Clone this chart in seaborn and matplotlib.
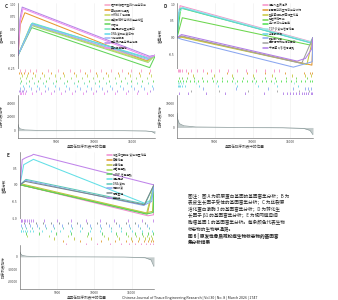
import matplotlib
matplotlib.use('Agg')
import matplotlib.pyplot as plt
import pandas as pd
import seaborn as sns

sns.set_theme(style='white')
plt.rcParams['font.family'] = ['Noto Sans CJK SC', 'DejaVu Sans']
plt.rcParams['axes.unicode_minus'] = False

W, H = 338, 300

# ---------------- datos ----------------
# (rangos en el eje x: posición en la lista ordenada; hits en miles)

# Panel C
pathways_c = ['胆汁酸和胆汁盐的代谢与合成', '氧化磷酸化通路', "mRNA 3'端加工", '三羧酸循环与呼吸电子传递',
              '核糖体', '细胞周期检查点蛋白', 'DNA 复制前复合物', '线粒体翻译', '蛋白质折叠与分子伴侣', '真核翻译起始']
colors_c = ['#f7a1c4', '#e8982e', '#c9d65b', '#9fdc6e', '#62d45a',
            '#6fe0b5', '#5fd8ea', '#98b4f5', '#b487e6', '#ee90ee']
es_rank_c = [[0, 1800, 16900, 18000], [0, 300, 900, 16900, 18000], [0, 1700, 17000, 18000],
             [0, 1800, 17100, 18000], [0, 1800, 17300, 18000], [0, 1900, 17000, 18000],
             [0, 1800, 16900, 18000], [0, 1900, 17000, 18000], [0, 250, 550, 17300, 18000],
             [0, 300, 650, 17200, 18000]]
es_val_c = [[0, 0.61, -0.10, 0], [0, 0.60, 0.83, -0.11, 0], [0, 0.60, -0.12, 0],
            [0, 0.58, -0.14, 0], [0, 0.54, -0.24, -0.02], [0, 0.63, -0.06, 0],
            [0, 0.62, -0.04, 0], [0, 0.60, -0.08, 0], [0, 0.70, 0.94, -0.02, 0],
            [0, 0.65, 0.91, -0.04, 0]]
hits_c = [[0.3, 0.9, 1.6, 2.4, 3.9, 5.2, 6.8, 8.1, 9.5, 10.9, 12.2, 13.6, 14.8, 16.1, 17.4],
          [0.1, 0.4, 0.8, 1.3, 2.0, 3.1, 4.4, 5.9, 7.3, 8.8, 10.2, 11.6, 13.1, 14.5, 15.9, 17.2],
          [0.5, 1.2, 2.2, 3.4, 4.8, 6.1, 7.6, 9.0, 10.4, 11.8, 13.3, 14.7, 16.0, 17.5],
          [0.2, 1.0, 1.9, 2.9, 4.1, 5.5, 6.9, 8.4, 9.8, 11.2, 12.7, 14.1, 15.5, 16.9],
          [0.4, 1.4, 2.6, 3.7, 5.0, 6.4, 7.9, 9.3, 10.7, 12.0, 13.5, 14.9, 16.3, 17.7],
          [0.3, 1.1, 2.1, 3.3, 4.6, 6.0, 7.4, 8.7, 10.1, 11.5, 12.9, 14.3, 15.7, 17.1],
          [0.6, 1.5, 2.5, 3.6, 4.9, 6.3, 7.7, 9.1, 10.6, 12.1, 13.4, 14.8, 16.2, 17.6],
          [0.2, 0.8, 1.7, 2.8, 4.0, 5.4, 6.7, 8.2, 9.6, 11.0, 12.4, 13.8, 15.2, 16.6, 17.8],
          [0.1, 0.3, 0.5, 0.7, 1.0, 2.3, 3.5, 4.7, 6.2, 7.5, 8.9, 10.3, 11.7, 13.0, 14.4, 15.8, 17.3],
          [0.2, 0.4, 0.6, 0.9, 1.8, 3.0, 4.3, 5.7, 7.1, 8.5, 9.9, 11.3, 12.8, 14.2, 15.6, 17.0]]

# Panel D
pathways_d = ['细胞外基质组织', '胶原蛋白的生物合成与修饰', '整合素细胞表面相互作用', '弹性纤维形成',
              '血小板活化与聚集', 'TGF-β 受体信号转导', '平滑肌收缩', '脂肪酸代谢',
              '固醇调节元件结合蛋白', '干扰素 α/β 信号通路']
colors_d = ['#f58fc8', '#e0962e', '#c8c83c', '#6cd64e', '#4ee04e',
            '#9eeae6', '#63d3e3', '#8aa6f0', '#a0a0a0', '#b07ce8']
es_rank_d = [[0, 400, 17700, 18000], [0, 600, 17850, 18000], [0, 600, 17200, 18000],
             [0, 700, 17600, 18000], [0, 500, 17700, 18000], [0, 200, 500, 800, 17700, 18000],
             [0, 300, 700, 17700, 18000], [0, 600, 15400, 17900, 18000], [0, 600, 16500, 18000],
             [0, 600, 15900, 17000, 17800, 18000]]
es_val_d = [[0, 0.95, -0.12, 0], [0, 0.03, -0.82, 0], [0, 0.01, -0.80, 0],
            [0, 0.59, -0.22, 0], [0, 0.88, -0.15, 0], [0, 0.75, 0.80, 0.90, -0.13, 0],
            [0, 0.85, 0.88, -0.16, 0], [0, -0.05, -0.88, -0.72, 0], [0, 0.05, -0.77, 0],
            [0, 0.09, -0.70, -0.62, -0.35, 0]]
hits_d = [[0.1, 0.2, 0.4, 0.7, 1.2, 1.9, 2.6, 3.4, 4.5, 5.6, 6.8, 7.9, 9.1, 10.4, 11.6, 12.8, 13.5],
          [1.5, 4.0, 6.6, 9.2, 11.7, 14.3, 16.8, 17.6, 17.9],
          [2.1, 4.9, 7.3, 10.1, 12.6, 15.2, 17.0, 17.7],
          [0.3, 0.6, 1.3, 2.2, 3.3, 4.6, 6.0, 7.4, 8.8, 10.2, 11.6, 13.0, 14.4, 15.8, 17.2],
          [0.1, 0.4, 0.8, 1.2, 1.7, 2.2, 2.8, 3.4, 4.0, 4.7, 5.3, 6.0, 6.6, 7.3, 7.9, 8.6,
           9.2, 9.9, 10.5, 11.2, 11.8, 12.5, 13.1, 13.8, 14.4, 15.1, 15.7, 16.4, 17.0, 17.6, 17.9],
          [0.1, 0.3, 0.5, 0.8, 2.5, 5.1, 7.7, 10.3, 12.9, 15.5],
          [0.1, 0.2, 0.4, 0.6, 1.1, 2.9, 5.4, 8.0, 10.7, 13.3, 16.0],
          [3.5, 7.8, 12.1, 15.3, 16.9, 17.4, 17.8, 17.95],
          [1.8, 5.5, 9.4, 13.2, 16.2, 17.5],
          [0.3, 1.5, 3.8, 6.4, 9.0, 11.5, 14.0, 14.5, 15.0, 15.4, 15.8, 16.1, 16.5, 16.8, 17.1, 17.4, 17.7, 17.9]]

# Panel E
pathways_e = ['神经活性配体-受体相互作用', '嗅觉转导', '味觉转导', '钙信号通路',
              'cAMP 信号通路', '细胞周期', 'DNA 复制', '错配修复', '同源重组', '剪接体']
colors_e = ['#f08ccf', '#e29a2f', '#bfc43a', '#a6d85a', '#55d05a',
            '#62dfe6', '#5dc8b8', '#86a8f2', '#7a8a8a', '#c084ea']
es_rank_e = [[0, 17200, 17950, 18000], [0, 17100, 18000], [0, 300, 16900, 17800, 18000],
             [0, 17000, 18000], [0, 17000, 17900, 18000], [0, 500, 1800, 16800, 17600, 18000],
             [0, 800, 16800, 18000], [0, 800, 16600, 17700, 18000], [0, 700, 16700, 18000],
             [0, 300, 700, 1000, 1600, 1800, 17900, 18000]]
es_val_e = [[0, -0.93, -0.90, 0], [0, -0.87, 0], [0, 0.02, -0.84, -0.80, 0],
            [0, -0.86, 0], [0, -0.88, -0.83, 0], [0, 0.60, 0.76, -0.56, -0.45, 0],
            [0, 0.16, -0.58, 0], [0, 0.13, -0.62, -0.50, 0], [0, 0.10, -0.60, 0],
            [0, 0.75, 0.80, 0.83, 0.88, 0.91, 0.0, 0]]
hits_e = [[6.2, 8.9, 10.4, 12.1, 13.5, 14.6, 15.4, 16.2, 16.9, 17.4, 17.8],
          [5.8, 8.1, 10.9, 12.7, 14.2, 15.1, 15.9, 16.6, 17.2, 17.6, 17.9],
          [4.5, 7.2, 9.6, 11.8, 13.3, 14.9, 16.0, 16.8, 17.3, 17.7],
          [1.0, 3.9, 6.5, 9.0, 11.3, 13.0, 14.5, 15.6, 16.5, 17.1, 17.6],
          [0.8, 2.6, 4.8, 6.9, 9.1, 11.0, 12.9, 14.3, 15.5, 16.4, 17.2, 17.8],
          [0.1, 0.2, 0.4, 0.7, 1.0, 1.4, 1.8, 2.9, 4.1, 5.4, 6.7, 8.0, 9.4, 10.8, 12.2, 13.6, 15.0, 16.4, 17.7],
          [0.3, 0.8, 1.6, 2.5, 3.5, 4.6, 5.8, 7.0, 8.3, 9.6, 10.9, 12.2, 13.5, 14.8, 16.1, 17.3],
          [0.2, 0.7, 1.4, 2.3, 3.3, 4.4, 5.6, 6.8, 8.1, 9.4, 10.7, 12.0, 13.3, 14.6, 15.9, 17.1],
          [0.5, 1.2, 2.1, 3.1, 4.2, 5.3, 6.5, 7.7, 9.0, 10.3, 11.6, 12.9, 14.2, 15.5, 16.8],
          [0.1, 0.2, 0.3, 0.5, 0.7, 0.9, 1.2, 1.5, 1.8, 3.2, 5.0, 6.9, 8.8, 10.7, 12.6, 14.5, 16.4, 17.9]]

# métrica de la lista ordenada
metric_rank = [0, 80, 300, 900, 2500, 8000, 14000, 16800, 17600, 18000]
metric_c = [9000, 5000, 2500, 1000, 300, 0, -100, -500, -1500, -4000]
metric_d = [6000, 3500, 1600, 700, 200, 0, -100, -400, -1200, -3000]
metric_e = [4000, 2500, 1200, 500, 150, 0, -150, -700, -2500, -8000]

x_ticks = [5000, 10000, 15000]

caption_lines = ['图注：图 A 为胶原蛋白基因的基因富集分析；B 为',
                 '表皮生长因子受体的基因富集分析；C 为丝裂原',
                 '活化蛋白激酶 3 的基因富集分析；D 为转化生',
                 '长因子 β1 的基因富集分析；E 为视网膜母细',
                 '胞瘤基因 1 的基因富集分析。每条颜色代表生物',
                 '标志物的生物学通路。']
title_lines = ['图 6 | 原发性骨质疏松症生物标志物的基因富',
               '集分析结果']
footer = 'Chinese Journal of Tissue Engineering Research | Vol 30 | No. 8 | March 2026 | 1747'

# ---------------- figura ----------------
fig = plt.figure(figsize=(W / 100, H / 100), dpi=100)
fig.patch.set_facecolor('white')


def box(x0, y0, x1, y1):
    # ejes colocados en coordenadas de pixel (origen arriba a la izquierda)
    return fig.add_axes([x0 / W, 1 - y1 / H, (x1 - x0) / W, (y1 - y0) / H])


def style_axis(ax, left=True, bottom=False):
    for s in ax.spines.values():
        s.set_visible(False)
    ax.spines['left'].set_visible(left)
    ax.spines['bottom'].set_visible(bottom)
    for s in ['left', 'bottom']:
        ax.spines[s].set_color('#555555')
        ax.spines[s].set_linewidth(0.4)
    ax.tick_params(axis='both', labelsize=2.4, length=1, width=0.3, pad=0.6,
                   colors='#555555', labelcolor='#444444')
    ax.set_xlim(0, 18000)
    for t in x_ticks:
        ax.axvline(t, color='#ececec', lw=0.4, zorder=0)
        ax.axvline(t - 2500, color='#f4f4f4', lw=0.3, zorder=0)
    ax.set_facecolor('white')


def draw_panel(letter, x0, x1, ytop, ybot, pathways, colors, ranks, vals, hits,
               metric, es_lim, es_ticks, es_fmt, m_lim, m_ticks, leg_xy, rug_reverse=False):
    y_es = ytop + (ybot - ytop) * 0.49
    y_rug = ytop + (ybot - ytop) * 0.68
    fig.text((x0 - 13) / W, 1 - (ytop + 1) / H, letter, fontsize=3.4, fontweight='bold',
             ha='left', va='top', color='#333333')

    # curvas de enriquecimiento
    ax = box(x0, ytop, x1, y_es)
    rows = []
    for name, rk, vl in zip(pathways, ranks, vals):
        for r, v in zip(rk, vl):
            rows.append({'rank': r, 'es': v, 'pathway': name})
    df = pd.DataFrame(rows)
    sns.lineplot(data=df, x='rank', y='es', hue='pathway', hue_order=pathways,
                 palette=colors, estimator=None, sort=False, lw=0.75, ax=ax)
    style_axis(ax)
    ax.set_ylim(*es_lim)
    ax.set_yticks(es_ticks)
    ax.set_yticklabels([es_fmt.format(t) for t in es_ticks])
    ax.set_xticks(x_ticks)
    ax.set_xticklabels([])
    ax.tick_params(axis='x', length=0)
    ax.set_xlabel('')
    ax.set_ylabel('富集分数', fontsize=2.6, labelpad=1.5, color='#444444')
    leg = ax.legend(loc='upper left', bbox_to_anchor=(leg_xy[0] / W, 1 - leg_xy[1] / H),
                    bbox_transform=fig.transFigure, fontsize=2.0, frameon=False,
                    handlelength=1.6, handletextpad=0.5, labelspacing=0.25, borderpad=0)
    for hl in leg.get_lines():
        hl.set_linewidth(1.1)

    # marcas de genes
    axr = box(x0, y_es, x1, y_rug)
    n = len(hits)
    for i, h in enumerate(hits):
        row = i if rug_reverse else n - 1 - i
        axr.vlines([v * 1000 for v in h], row + 0.05, row + 0.95, color=colors[i], lw=0.6)
    style_axis(axr, left=False)
    axr.set_ylim(0, n)
    axr.set_xticks([])
    axr.set_yticks([])

    # métrica de la lista ordenada
    axm = box(x0, y_rug, x1, ybot)
    sns.lineplot(x=metric_rank, y=metric, color='#8a9a9a', lw=0.5, ax=axm)
    axm.fill_between(metric_rank, metric, 0, color='#c4cccc', lw=0)
    style_axis(axm, bottom=True)
    axm.set_ylim(*m_lim)
    axm.set_yticks(m_ticks)
    axm.set_yticklabels([str(t) for t in m_ticks])
    axm.set_xticks(x_ticks)
    axm.set_xticklabels([str(t) for t in x_ticks])
    axm.set_ylabel('排序列表指标', fontsize=2.6, labelpad=1.5, color='#444444')
    axm.set_xlabel('基因在排序列表中的位置', fontsize=2.6, labelpad=1, color='#444444')
    ax.yaxis.set_label_coords(-0.1, 0.5)
    axm.yaxis.set_label_coords(-0.1, 0.5)


draw_panel('C', 18, 155, 3, 138, pathways_c, colors_c, es_rank_c, es_val_c, hits_c, metric_c,
           (-0.27, 1.02), [-0.25, 0, 0.25, 0.5, 0.75, 1.0], '{:.2f}',
           (-10800, 52300), [0, 20000, 40000], (104, 2))
draw_panel('D', 177, 313, 3, 138, pathways_d, colors_d, es_rank_d, es_val_d, hits_d, metric_d,
           (-0.94, 1.03), [-0.5, 0, 0.5, 1.0], '{:.1f}',
           (-4350, 13500), [0, 5000, 10000], (262, 2))
draw_panel('E', 20, 154, 152, 289, pathways_e, colors_e, es_rank_e, es_val_e, hits_e, metric_e,
           (-1.03, 0.98), [-1.0, -0.5, 0, 0.5], '{:.1f}',
           (-26400, 9600), [-20000, -10000, 0], (106, 152), rug_reverse=True)

# pie de figura
y = 196
for line in caption_lines:
    fig.text(188 / W, 1 - y / H, line, fontsize=3.3, color='#222222', va='center', ha='left')
    y += 6.6
for line in title_lines:
    fig.text(188 / W, 1 - y / H, line, fontsize=3.3, color='#222222', va='center', ha='left',
             fontweight='bold')
    y += 6.6

fig.text(122 / W, 1 - 298 / H, footer, fontsize=2.6, color='#222222', va='center', ha='left')

fig.savefig('out.png', dpi=100, facecolor='white')
